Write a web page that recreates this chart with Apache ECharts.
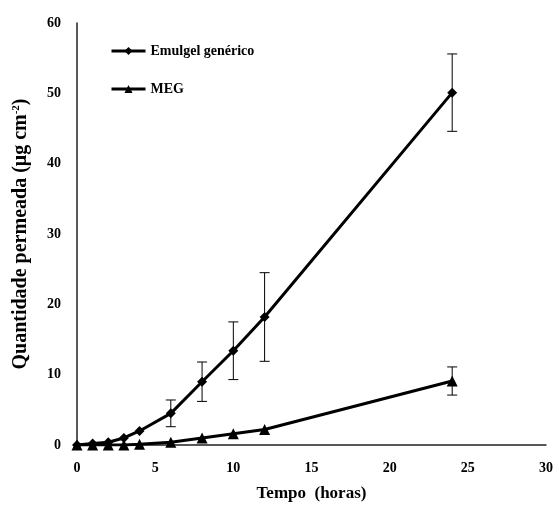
<!DOCTYPE html>
<html>
<head>
<meta charset="utf-8">
<script src="https://cdn.jsdelivr.net/npm/echarts@6/dist/echarts.min.js"></script>
<style>
html,body{margin:0;padding:0;background:#fff;}
#myChart{width:559px;height:511px;}
</style>
</head>
<body>
<div id="myChart"></div>
<script>
// dados (horas / µg cm-2)
var tempo = [0, 1, 2, 3, 4, 6, 8, 10, 12, 24];
var emulgel = [0, 0.2, 0.4, 1.0, 2.0, 4.5, 9.0, 13.4, 18.2, 50.1];
var emulgelDP = [0, 0, 0, 0, 0, 1.9, 2.8, 4.1, 6.3, 5.5];
var meg = [0, 0, 0, 0, 0.1, 0.4, 1.0, 1.6, 2.2, 9.1];
var megDP = [0, 0, 0, 0, 0, 0, 0, 0, 0, 2.0];
var xTicks = [0, 30, 5];
var yTicks = [0, 60, 10];

var fonte = '"Liberation Serif", "Times New Roman", serif';

function pares(ys) {
	var arr = [];
	for (var i = 0; i < tempo.length; i++) arr.push([tempo[i], ys[i]]);
	return arr;
}
function barras(ys, dp) {
	var arr = [];
	for (var i = 0; i < tempo.length; i++) {
		if (dp[i] > 0) arr.push([tempo[i], ys[i] - dp[i], ys[i] + dp[i]]);
	}
	return arr;
}
// barra de erro
function desenhaErro(params, api) {
	var x = api.value(0);
	var lo = api.coord([x, api.value(1)]);
	var hi = api.coord([x, api.value(2)]);
	var w = 5;
	var st = { stroke: '#000', lineWidth: 1 };
	return {
		type: 'group',
		children: [
			{ type: 'line', shape: { x1: lo[0], y1: lo[1], x2: hi[0], y2: hi[1] }, style: st },
			{ type: 'line', shape: { x1: lo[0] - w, y1: lo[1], x2: lo[0] + w, y2: lo[1] }, style: st },
			{ type: 'line', shape: { x1: hi[0] - w, y1: hi[1], x2: hi[0] + w, y2: hi[1] }, style: st }
		]
	};
}

var myChart = echarts.init(document.getElementById('myChart'));
myChart.setOption({
	animation: false,
	backgroundColor: '#fff',
	grid: { left: 77, right: 13, top: 23, bottom: 66 },
	legend: {
		orient: 'vertical',
		left: 105,
		top: 39,
		itemGap: 24,
		itemWidth: 34,
		itemHeight: 10,
		lineStyle: { width: 3 },
		textStyle: { fontFamily: fonte, fontWeight: 'bold', fontSize: 14, color: '#000' },
		data: ['Emulgel genérico', 'MEG']
	},
	xAxis: {
		type: 'value',
		min: xTicks[0], max: xTicks[1], interval: xTicks[2],
		name: 'Tempo  (horas)',
		nameLocation: 'middle',
		nameGap: 40,
		nameTextStyle: { fontFamily: fonte, fontWeight: 'bold', fontSize: 17, color: '#000' },
		axisLine: { lineStyle: { color: '#222', width: 1.5 } },
		axisTick: { show: false },
		splitLine: { show: false },
		axisLabel: { fontFamily: fonte, fontWeight: 'bold', fontSize: 14, color: '#000', margin: 16 }
	},
	yAxis: {
		type: 'value',
		min: yTicks[0], max: yTicks[1], interval: yTicks[2],
		name: 'Quantidade permeada (μg cm{s|-2})',
		nameLocation: 'middle',
		nameGap: 46,
		nameTextStyle: {
			fontFamily: fonte, fontWeight: 'bold', fontSize: 20, color: '#000',
			rich: { s: { fontFamily: fonte, fontWeight: 'bold', fontSize: 11, color: '#000', verticalAlign: 'top', padding: [0, 0, 9, 0] } }
		},
		axisLine: { show: true, lineStyle: { color: '#222', width: 1.5 } },
		axisTick: { show: false },
		splitLine: { show: false },
		axisLabel: { fontFamily: fonte, fontWeight: 'bold', fontSize: 14, color: '#000', margin: 16 }
	},
	series: [
		{
			name: 'Emulgel genérico',
			type: 'line',
			data: pares(emulgel),
			symbol: 'diamond',
			symbolSize: 10,
			itemStyle: { color: '#000' },
			lineStyle: { color: '#000', width: 3 },
			z: 3
		},
		{
			name: 'MEG',
			type: 'line',
			data: pares(meg),
			symbol: 'triangle',
			symbolSize: 11,
			itemStyle: { color: '#000' },
			lineStyle: { color: '#000', width: 3 },
			z: 3
		},
		{
			type: 'custom',
			renderItem: desenhaErro,
			data: barras(emulgel, emulgelDP),
			encode: { x: 0, y: [1, 2] },
			z: 2
		},
		{
			type: 'custom',
			renderItem: desenhaErro,
			data: barras(meg, megDP),
			encode: { x: 0, y: [1, 2] },
			z: 2
		}
	]
});
</script>
</body>
</html>
